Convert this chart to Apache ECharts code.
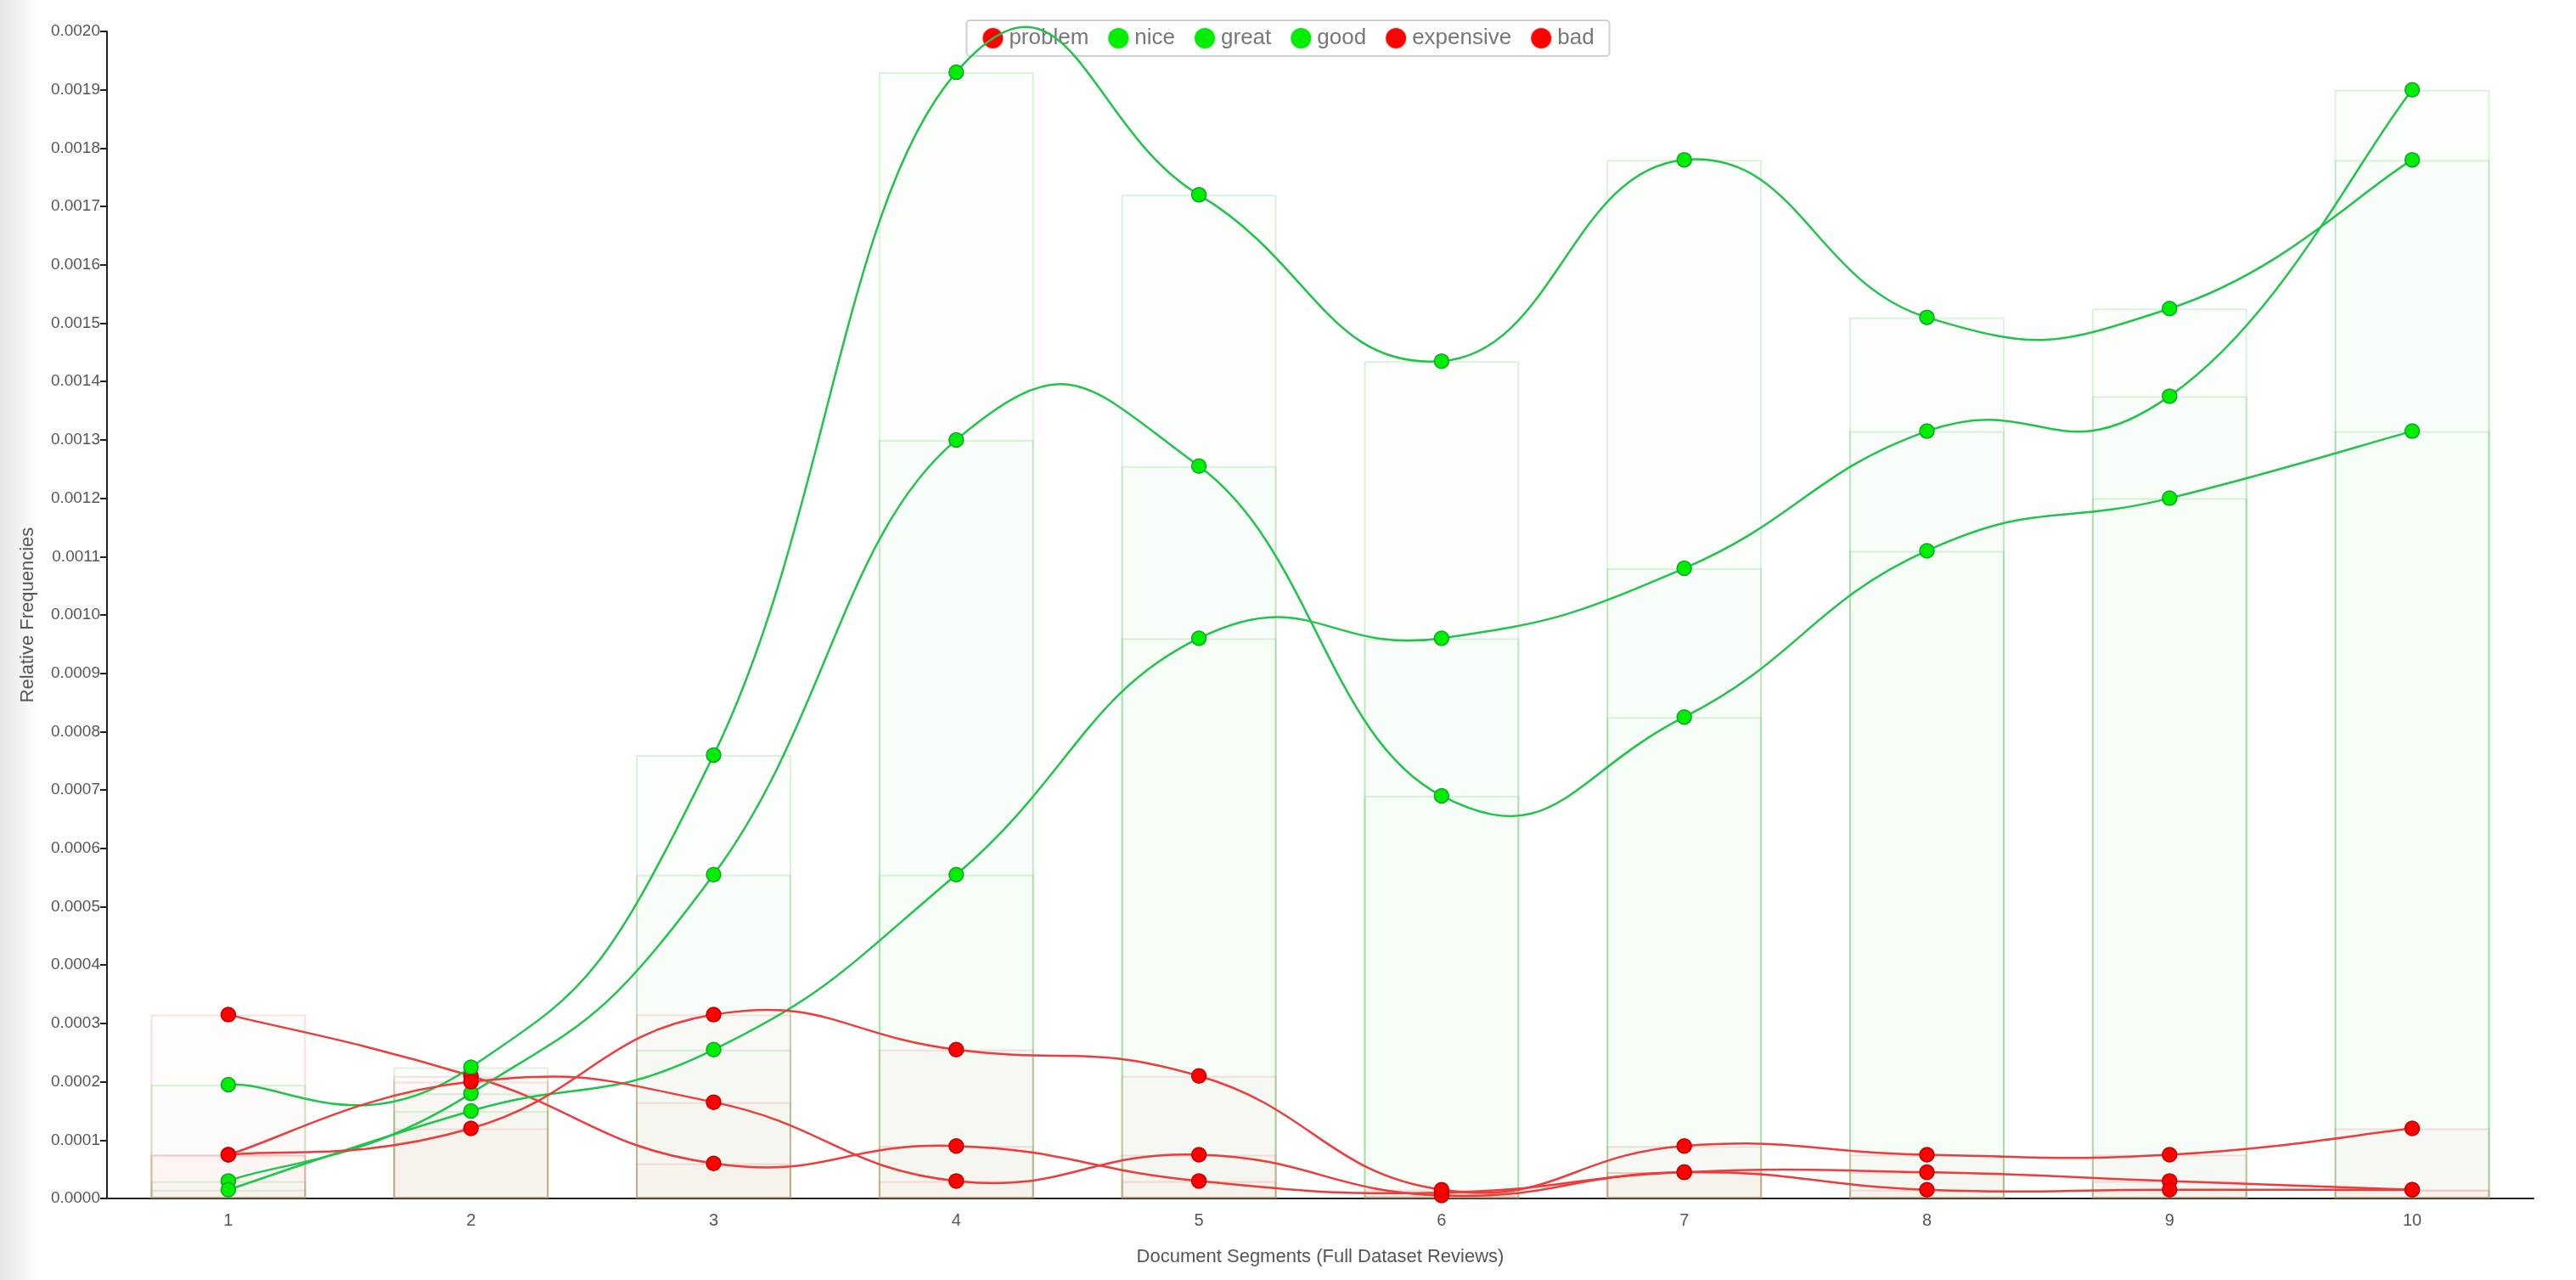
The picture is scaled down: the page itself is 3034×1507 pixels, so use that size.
<!DOCTYPE html>
<html><head><meta charset="utf-8">
<script src="https://cdn.jsdelivr.net/npm/echarts@6/dist/echarts.min.js"></script>
<style>html,body{margin:0;padding:0;background:#fff}#c{width:3034px;height:1507px}</style>
</head><body><div id="c"></div>
<script>
const categories = ['1','2','3','4','5','6','7','8','9','10'];
const problem   = [0.000315,0.00021,0.00006,0.00009,0.00003,0.00001,0.000045,0.000045,0.00003,0.000015];
const nice      = [0.000195,0.000225,0.00076,0.00193,0.00172,0.001435,0.00178,0.00151,0.001525,0.00178];
const great     = [0.00003,0.00018,0.000555,0.0013,0.001255,0.00069,0.000825,0.00111,0.0012,0.001315];
const good      = [0.000015,0.00015,0.000255,0.000555,0.00096,0.00096,0.00108,0.001315,0.001375,0.0019];
const expensive = [0.000075,0.0002,0.000165,0.00003,0.000075,0.000005,0.000045,0.000015,0.000015,0.000015];
const bad       = [0.000075,0.00012,0.000315,0.000255,0.00021,0.000015,0.00009,0.000075,0.000075,0.00012];
const yTicks = {min:0, max:0.002, interval:0.0001};

const defs = [['problem',problem,'r'],['nice',nice,'g'],['great',great,'g'],['good',good,'g'],['expensive',expensive,'r'],['bad',bad,'r']];
const col = {r:{pt:'#ff0000',ln:'#ee3b3b',fill:'rgba(255,120,80,0.018)',edge:'rgba(230,120,120,0.22)'},
             g:{pt:'#00ee00',ln:'#1fc44a',fill:'rgba(60,200,60,0.014)',edge:'rgba(80,190,80,0.2)'}};
function crPath(p, f){
  let s='M'+p[0][0]+' '+p[0][1];
  for(let i=0;i<p.length-1;i++){
    const p0=p[Math.max(0,i-1)],p1=p[i],p2=p[i+1],p3=p[Math.min(p.length-1,i+2)];
    const c1=[p1[0]+(p2[0]-p0[0])*f,p1[1]+(p2[1]-p0[1])*f];
    const c2=[p2[0]-(p3[0]-p1[0])*f,p2[1]-(p3[1]-p1[1])*f];
    s+=' C'+c1.join(' ')+' '+c2.join(' ')+' '+p2.join(' ');
  }
  return s;
}
const series = [];
defs.forEach(([n,d,k])=>{
  series.push({name:n,type:'bar',data:d,barWidth:'64%',barGap:'-100%',z:1,silent:true,
    itemStyle:{color:col[k].fill,borderColor:col[k].edge,borderWidth:2}});
});
defs.forEach(([n,d,k])=>{
  series.push({name:n,type:'custom',z:4,silent:true,data:d.map((v,i)=>[i,v]),
    renderItem:(params,api)=>{
      if(params.dataIndex!==0) return null;
      const p=d.map((v,i)=>api.coord([i,v]));
      return {type:'path',shape:{pathData:crPath(p,1/4.3)},style:{fill:null,stroke:col[k].ln,lineWidth:2.5}};
    }});
  series.push({name:n,type:'line',data:d,z:5,symbol:'circle',symbolSize:17,
    lineStyle:{width:0,opacity:0},
    itemStyle:{color:col[k].pt,borderColor:k==='g'?'#14a030':'#c00000',borderWidth:1.5}});
});
const chart = echarts.init(document.getElementById('c'));
chart.setOption({
  animation:false,
  graphic:[{type:'rect',left:0,top:0,shape:{width:48,height:1507},z:-10,
    style:{fill:new echarts.graphic.LinearGradient(0,0,1,0,[{offset:0,color:'#e6e6e6'},{offset:1,color:'#ffffff'}])}}],
  legend:{top:24,left:'center',itemGap:22,padding:[8,18],
    borderColor:'#d0d0d0',borderWidth:2,borderRadius:4,icon:'circle',itemWidth:24,itemHeight:24,
    textStyle:{fontFamily:'Liberation Sans',fontSize:26,color:'#777',padding:[0,10,0,2]},
    data:defs.map(([n,d,k])=>({name:n,itemStyle:{color:col[k].pt}}))},
  grid:{left:126,right:50,top:37,bottom:96},
  xAxis:{type:'category',data:categories,
    name:'Document Segments (Full Dataset Reviews)',nameLocation:'middle',nameGap:58,
    nameTextStyle:{fontFamily:'Liberation Sans',fontSize:22,color:'#555'},
    axisLine:{lineStyle:{color:'#222',width:2}},axisTick:{alignWithLabel:true,length:8,lineStyle:{color:'#222',width:2}},
    axisLabel:{fontFamily:'Liberation Sans',fontSize:20,color:'#555',margin:16}},
  yAxis:{type:'value',min:yTicks.min,max:yTicks.max,interval:yTicks.interval,
    name:'Relative Frequencies',nameLocation:'middle',nameGap:82,
    nameTextStyle:{fontFamily:'Liberation Sans',fontSize:22,color:'#555'},
    splitLine:{show:false},
    axisLine:{show:true,lineStyle:{color:'#222',width:2}},axisTick:{show:true,length:8,lineStyle:{color:'#222',width:2}},
    axisLabel:{fontFamily:'Liberation Sans',fontSize:19,color:'#555',formatter:v=>v.toFixed(4)}},
  series
});
</script></body></html>
